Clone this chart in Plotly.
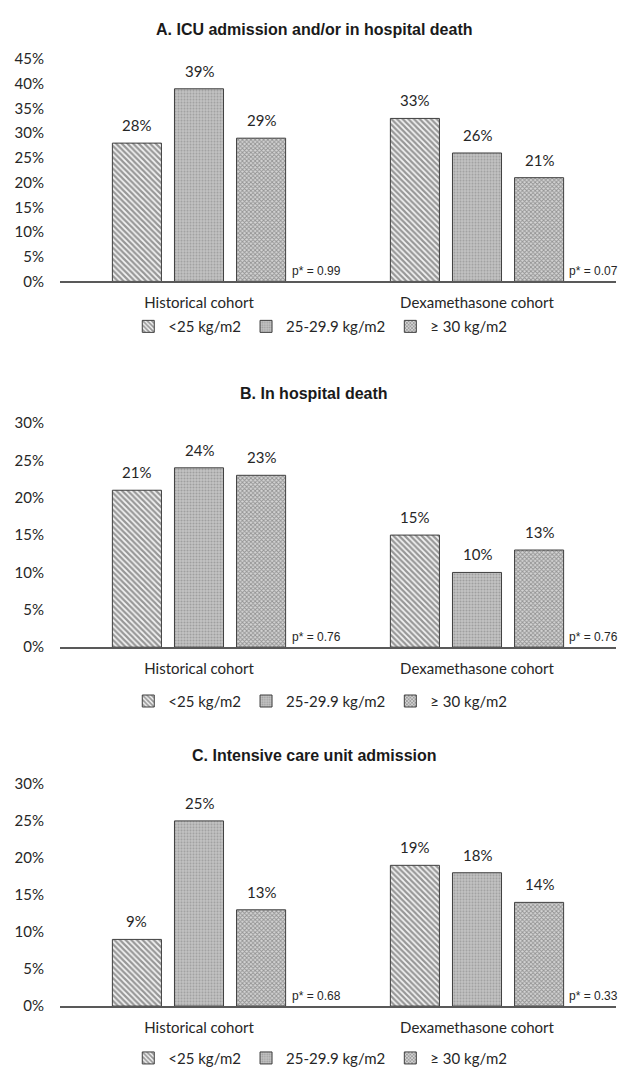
import plotly.graph_objects as go

W, H = 628, 1078

categories = ["Historical cohort", "Dexamethasone cohort"]
series_names = ["<25 kg/m2", "25-29.9 kg/m2", "≥ 30 kg/m2"]

titles = ["A. ICU admission and/or in hospital death",
          "B. In hospital death",
          "C. Intensive care unit admission"]

# values per panel: [series][category]
panel_A = [[28, 33], [39, 26], [29, 21]]
panel_B = [[21, 15], [24, 10], [23, 13]]
panel_C = [[9, 19], [25, 18], [13, 14]]
panels = [panel_A, panel_B, panel_C]

p_values = [["p* = 0.99", "p* = 0.07"],
            ["p* = 0.76", "p* = 0.76"],
            ["p* = 0.68", "p* = 0.33"]]

y_max = [45, 30, 30]
tick_vals = [[0, 5, 10, 15, 20, 25, 30, 35, 40, 45],
             [0, 5, 10, 15, 20, 25, 30],
             [0, 5, 10, 15, 20, 25, 30]]

# layout in pixels
plot_px = [(50, 276), (420, 648), (787, 1013)]
title_px = [20, 390, 758]
legend_px = [322, 703, 1066]
x_left, x_right = 60, 616

patterns = [
    dict(shape="\\", fgcolor="#3a3a3a", bgcolor="#f4f4f4", size=4, solidity=0.55),
    dict(shape=".", fgcolor="#7a7a7a", bgcolor="#c4c4c4", size=3, solidity=0.4),
    dict(shape="x", fgcolor="#505050", bgcolor="#d4d4d4", size=3, solidity=0.5),
]

TXT = "#262626"
FONT = "Lato"

fig = go.Figure()
annotations = []
layout = dict(width=W, height=H, margin=dict(l=0, r=0, t=0, b=0),
              paper_bgcolor="white", plot_bgcolor="white",
              barmode="group", bargap=0.33, bargroupgap=0.21,
              font=dict(family=FONT, size=15, color=TXT))

def py(px):
    return 1 - px / H

cat_w = (x_right - x_left) / 2
slot = cat_w * (1 - 0.33) / 3

for p in range(3):
    sfx = "" if p == 0 else str(p + 1)
    xa, ya = "x" + sfx, "y" + sfx
    leg = "legend" + sfx
    for s in range(3):
        fig.add_trace(go.Bar(
            x=categories, y=panels[p][s], name=series_names[s],
            xaxis=xa, yaxis=ya, legend=leg,
            marker=dict(color="white", pattern=patterns[s],
                        line=dict(color="#3f3f3f", width=1)),
            hoverinfo="skip",
        ))
        for c in range(2):
            annotations.append(dict(
                x=categories[c], y=panels[p][s][c], xref=xa, yref=ya,
                text=f"{panels[p][s][c]}%", showarrow=False,
                xshift=(s - 1) * slot, yanchor="bottom", yshift=7,
                font=dict(family=FONT, size=15, color=TXT)))
    top, bot = plot_px[p]
    layout["xaxis" + sfx] = dict(
        domain=[x_left / W, x_right / W], anchor=ya,
        showline=True, linecolor="#595959", linewidth=1.5,
        ticks="", showgrid=False, zeroline=False,
        tickfont=dict(family=FONT, size=15, color=TXT),
        ticklabelstandoff=7, fixedrange=True)
    layout["yaxis" + sfx] = dict(
        domain=[py(bot), py(top)], anchor=xa, range=[0, y_max[p]],
        tickvals=tick_vals[p], ticktext=[f"{v}%" for v in tick_vals[p]],
        showline=False, showgrid=False, zeroline=False, ticks="",
        tickfont=dict(family=FONT, size=15, color=TXT),
        ticklabelstandoff=15, fixedrange=True)
    layout[leg] = dict(
        orientation="h", x=0.51, xanchor="center", y=py(legend_px[p]),
        yanchor="middle", font=dict(family=FONT, size=15, color=TXT),
        itemwidth=30, tracegroupgap=0, bgcolor="rgba(0,0,0,0)")
    annotations.append(dict(
        x=0.5, y=py(title_px[p]), xref="paper", yref="paper",
        text=f"<b>{titles[p]}</b>", showarrow=False,
        xanchor="center", yanchor="middle",
        font=dict(family="Liberation Sans", size=16, color="#1a1a1a")))
    for c, xpos in enumerate([290, 567]):
        annotations.append(dict(
            x=(xpos - x_left) / (x_right - x_left), y=0,
            xref=xa + " domain", yref=ya, text=p_values[p][c],
            showarrow=False, xanchor="left", yanchor="bottom", yshift=1,
            font=dict(family="Liberation Sans", size=12, color=TXT)))

layout["annotations"] = annotations
fig.update_layout(**layout)
fig.write_html("out.html")
